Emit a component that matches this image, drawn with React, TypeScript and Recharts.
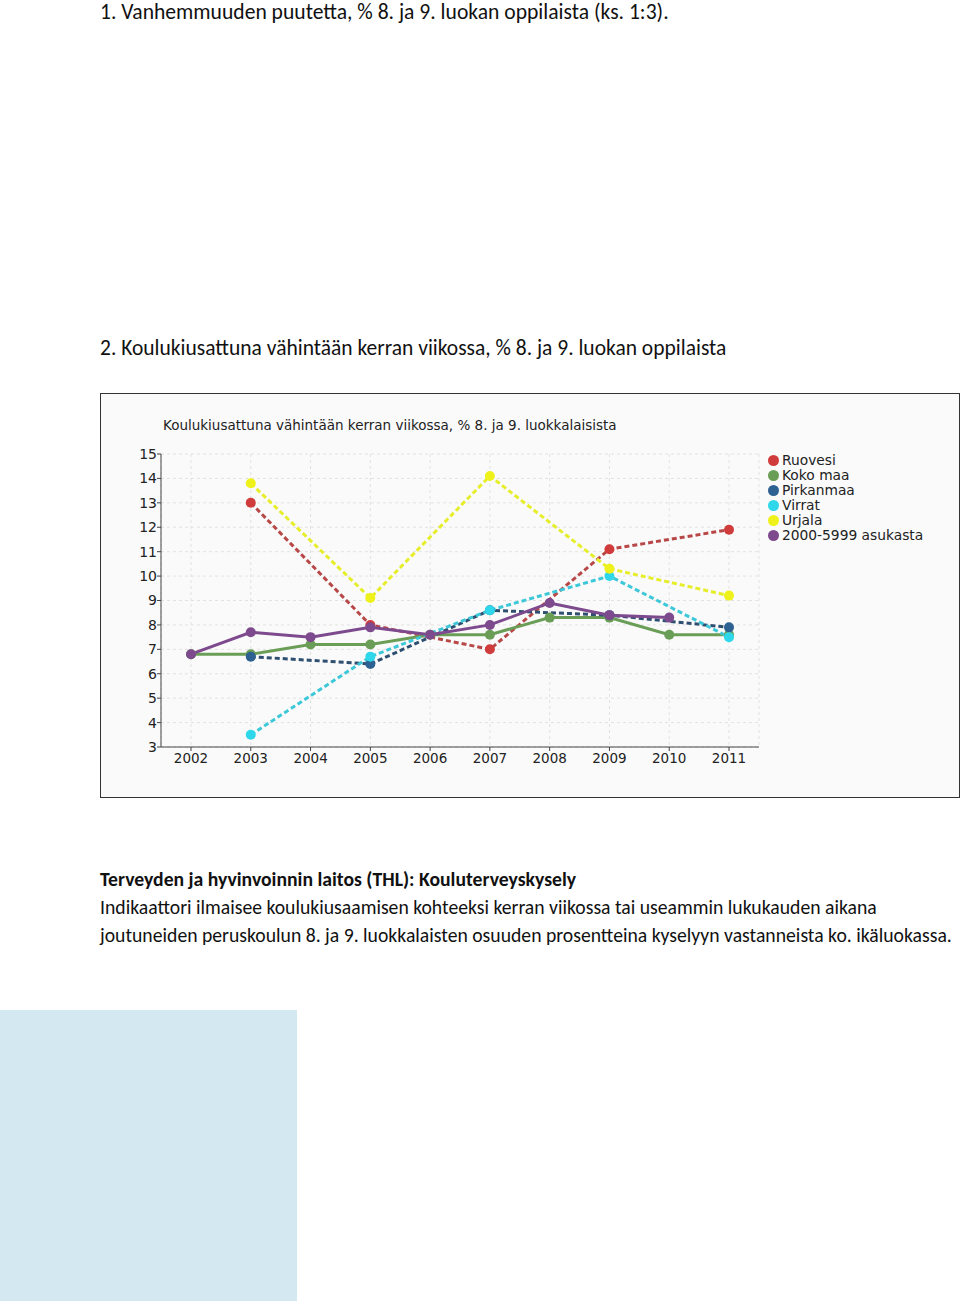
import React from "react";
import { LineChart, Line, XAxis, YAxis, CartesianGrid } from "recharts";

const years = ["2002", "2003", "2004", "2005", "2006", "2007", "2008", "2009", "2010", "2011"];
const ruovesi = [null, 13.0, null, 8.0, null, 7.0, null, 11.1, null, 11.9];
const kokoMaa = [6.8, 6.8, 7.2, 7.2, 7.6, 7.6, 8.3, 8.3, 7.6, 7.6];
const pirkanmaa = [null, 6.7, null, 6.4, null, 8.6, null, 8.4, null, 7.9];
const virrat = [null, 3.5, null, 6.7, null, 8.6, null, 10.0, null, 7.5];
const urjala = [null, 13.8, null, 9.1, null, 14.1, null, 10.3, null, 9.2];
const asukasta = [6.8, 7.7, 7.5, 7.9, 7.6, 8.0, 8.9, 8.4, 8.3, null];
const yTicks = [3, 4, 5, 6, 7, 8, 9, 10, 11, 12, 13, 14, 15];

const series = [
  { key: "Ruovesi", values: ruovesi, dot: "#d03c3c", line: "#b84848", dashed: true },
  { key: "Koko maa", values: kokoMaa, dot: "#6a9e57", line: "#6a9e57", dashed: false },
  { key: "Pirkanmaa", values: pirkanmaa, dot: "#2d6192", line: "#2f4f70", dashed: true },
  { key: "Virrat", values: virrat, dot: "#2ed8ea", line: "#3cc8d8", dashed: true },
  { key: "Urjala", values: urjala, dot: "#eef21a", line: "#e6ee2a", dashed: true },
  { key: "2000-5999 asukasta", values: asukasta, dot: "#7e4a8e", line: "#7e4a8e", dashed: false },
];

const data = years.map((y, i) => {
  const row: Record<string, string | number | null> = { year: y };
  series.forEach((s) => (row[s.key] = s.values[i]));
  return row;
});

const chartFont = "'DejaVu Sans', Verdana, sans-serif";
const docFont = "Carlito, Calibri, Lato, sans-serif";

// legend drawn as plain html, recharts' Legend would eat plot width
function LegendBox() {
  return (
    <div style={{ position: "absolute", left: 667, top: 59, fontFamily: chartFont, fontSize: 13.8, color: "#222", lineHeight: "15px" }}>
      {series.map((s) => (
        <div key={s.key} style={{ display: "flex", alignItems: "center", whiteSpace: "nowrap" }}>
          <span style={{ width: 11, height: 11, borderRadius: 6, background: s.dot, marginRight: 3 }} />
          {s.key}
        </div>
      ))}
    </div>
  );
}

export default function App() {
  return (
    <div style={{ position: "absolute", left: 0, top: 0, width: 960, height: 1301, background: "#fff", fontFamily: docFont, color: "#111" }}>
      <div style={{ position: "absolute", left: 100, top: -1, fontSize: 21.6, lineHeight: "26px" }}>
        1. Vanhemmuuden puutetta, % 8. ja 9. luokan oppilaista (ks. 1:3).
      </div>
      <div style={{ position: "absolute", left: 100, top: 335, fontSize: 21.5, lineHeight: "26px" }}>
        2. Koulukiusattuna vähintään kerran viikossa, % 8. ja 9. luokan oppilaista
      </div>

      <div style={{ position: "absolute", left: 100, top: 393, width: 858, height: 403, border: "1px solid #333", background: "#fafafa" }}>
        <div style={{ position: "absolute", left: 62, top: 23, fontFamily: chartFont, fontSize: 13.5, color: "#222", whiteSpace: "nowrap" }}>
          Koulukiusattuna vähintään kerran viikossa, % 8. ja 9. luokkalaisista
        </div>
        <LineChart width={858} height={403} data={data} margin={{ top: 60, right: 200, bottom: 0, left: 0 }}>
          <CartesianGrid stroke="#e2e2e2" strokeDasharray="3 3" />
          <XAxis
            dataKey="year"
            padding={{ left: 30, right: 30 }}
            stroke="#444"
            tickSize={4}
            tick={{ fill: "#222", fontSize: 13.5, fontFamily: chartFont }}
            height={50}
          />
          <YAxis
            domain={[3, 15]}
            ticks={yTicks}
            interval={0}
            stroke="#444"
            tickSize={4}
            tickMargin={0}
            width={60}
            tick={{ fill: "#222", fontSize: 14, fontFamily: chartFont }}
          />
          {series.map((s) => (
            <Line
              key={s.key}
              type="linear"
              dataKey={s.key}
              stroke={s.line}
              strokeWidth={3}
              strokeDasharray={s.dashed ? "5 3" : undefined}
              connectNulls
              dot={{ r: 5, fill: s.dot, stroke: s.dot, strokeWidth: 0 }}
              activeDot={false}
              isAnimationActive={false}
            />
          ))}
        </LineChart>
        <LegendBox />
      </div>

      <div style={{ position: "absolute", left: 100, top: 865, fontSize: 19.7, lineHeight: "28px" }}>
        <div style={{ fontWeight: 700 }}>Terveyden ja hyvinvoinnin laitos (THL): Kouluterveyskysely</div>
        <div>Indikaattori ilmaisee koulukiusaamisen kohteeksi kerran viikossa tai useammin lukukauden aikana</div>
        <div style={{ whiteSpace: "nowrap" }}>joutuneiden peruskoulun 8. ja 9. luokkalaisten osuuden prosentteina kyselyyn vastanneista ko. ikäluokassa.</div>
      </div>

      <div style={{ position: "absolute", left: 0, top: 1010, width: 297, height: 291, background: "#d3e8f0" }} />
    </div>
  );
}
